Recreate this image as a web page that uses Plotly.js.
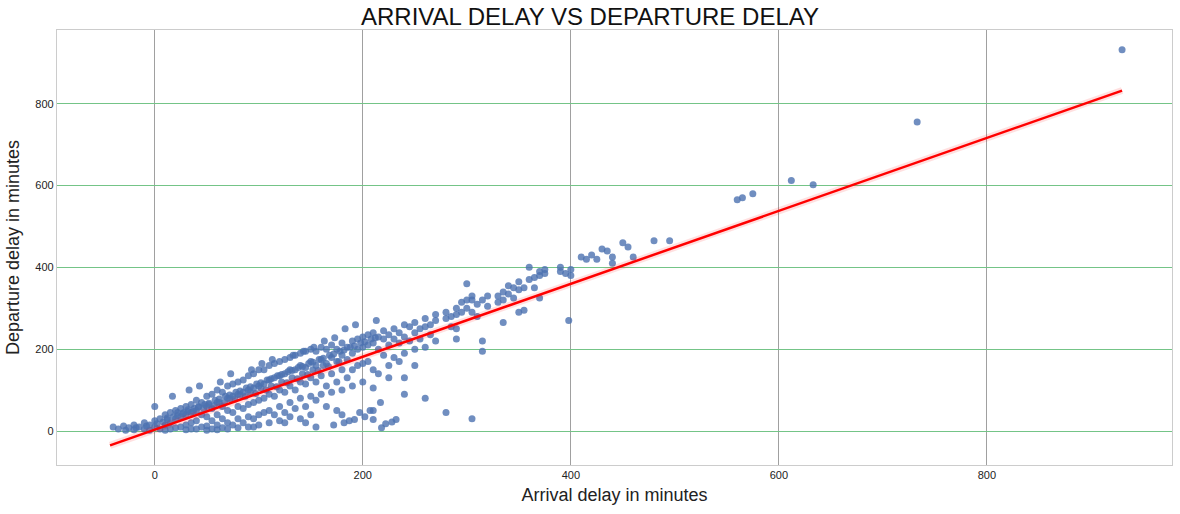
<!DOCTYPE html>
<html>
<head>
<meta charset="utf-8">
<script src="https://cdn.plot.ly/plotly-3.0.1.min.js"></script>
<style>body{margin:0;background:#fff}#chart{width:1180px;height:514px}</style>
</head>
<body>
<div id="chart"></div>
<script>
var arrDelay = [-40,-35,-30,-25,-20,-20,-15,-10,-10,-5,-5,0,0,0,
5,5,10,10,10,15,15,15,20,20,20,25,25,25,30,30,30,30,35,35,35,35,40,40,40,40,45,45,45,
50,50,50,50,50,55,55,55,55,60,60,60,60,60,65,65,65,65,70,70,70,70,70,75,75,75,75,
80,80,80,80,80,85,85,85,85,90,90,90,90,90,95,95,95,95,95,100,100,100,100,100,105,105,105,105,
110,110,110,110,110,115,115,115,115,120,120,120,120,120,125,125,125,125,125,130,130,130,130,130,
135,135,135,135,140,140,140,140,140,145,145,145,145,145,150,150,150,150,150,155,155,155,155,155,
160,160,160,160,165,165,165,165,170,170,170,170,175,175,175,175,180,180,180,180,180,185,185,185,
190,190,190,190,195,195,195,200,200,200,200,205,205,205,210,210,210,210,210,210,215,215,215,
220,220,220,225,225,225,225,230,230,230,235,235,235,240,240,240,240,240,245,245,250,250,250,250,
255,255,260,260,260,260,265,265,270,270,270,280,280,280,285,285,290,290,290,290,295,295,
300,300,300,305,305,305,305,310,310,315,315,315,320,320,330,330,335,335,335,340,340,345,345,
350,350,350,355,355,360,360,365,365,370,370,370,375,375,390,390,395,398,400,400,410,415,420,425,
430,435,440,440,450,455,460,480,495,560,565,575,612,633,733,930,
// extra points filling the dense part of the cloud
-28,-18,-8,2,8,12,18,22,28,32,38,42,48,52,58,62,68,72,78,82,88,92,98,102,108,112,118,122,128,132,
138,142,148,152,158,162,168,172,178,182,188,192,198,202,208,212,218,222,228,232,
12,22,32,42,52,62,72,82,92,102,112,122,132,142,152,162,172,182,192,202,
27,37,47,57,67,77,87,97,107,117,127,137,147,157,167,177,187,197,207,217,
17,33,43,63,73,93,103,113,133,143,153,163,173,183,193,213,223,243,253,263];
var depDelay = [10,5,12,8,15,3,10,20,5,15,2,25,10,60,
30,5,40,15,2,45,20,5,50,30,8,55,35,10,60,40,15,3,65,45,20,5,75,50,25,5,70,40,10,
85,60,35,12,2,90,55,25,5,100,70,40,15,3,95,60,30,8,110,80,50,20,5,115,85,45,15,
120,90,60,30,8,125,95,55,20,135,100,65,35,10,140,105,70,30,10,150,110,75,40,15,150,115,80,45,
160,125,90,50,20,165,130,85,40,170,135,100,60,25,175,140,95,45,20,180,150,110,70,35,
185,150,100,55,190,160,120,80,30,195,155,115,60,20,200,170,130,85,40,195,160,120,75,10,
205,175,135,90,200,165,110,60,210,180,140,95,200,170,120,50,215,185,150,100,40,205,175,130,
220,190,150,110,225,200,160,230,205,165,120,235,210,170,240,215,150,105,50,28,230,200,140,
245,225,185,235,210,160,130,250,225,180,240,215,170,260,230,190,130,90,255,220,265,240,200,160,
250,225,275,255,205,80,260,235,285,270,220,290,275,45,280,255,300,285,250,225,315,290,
320,300,360,330,320,290,30,310,280,320,195,220,330,305,330,315,340,320,265,355,335,350,325,
365,345,290,350,295,370,400,375,350,390,380,325,395,385,400,390,385,270,395,380,425,420,430,420,
445,440,410,425,460,450,425,465,465,565,570,580,612,602,755,932,
2,8,12,18,22,28,35,38,45,48,55,58,65,68,75,78,85,88,95,98,105,108,115,118,125,128,
135,138,145,148,155,158,165,168,175,178,185,188,195,198,205,208,215,218,225,228,
8,18,22,28,32,45,52,60,65,70,78,88,95,105,110,120,130,140,150,160,
15,20,28,35,42,48,55,62,70,78,85,92,100,108,118,128,138,148,158,170,
25,45,50,70,85,100,110,120,140,150,165,175,185,195,205,220,228,250,260,270];
// fitted regression line end points
var fitX = [-43, 930];
var fitY = [-35, 832];

var pts = {
  x: arrDelay, y: depDelay, type: 'scatter', mode: 'markers',
  marker: {color: '#4c72b0', size: 7, opacity: 0.8}, hoverinfo: 'skip'
};
var band = {
  x: fitX, y: fitY, type: 'scatter', mode: 'lines',
  line: {color: 'rgba(255,0,0,0.12)', width: 7}, hoverinfo: 'skip'
};
var fit = {
  x: fitX, y: fitY, type: 'scatter', mode: 'lines',
  line: {color: '#ff0000', width: 2.5}
};

var layout = {
  width: 1180, height: 514,
  margin: {l: 57, r: 8, t: 30, b: 49},
  showlegend: false,
  paper_bgcolor: '#fff', plot_bgcolor: '#fff',
  font: {family: 'Liberation Sans, Arial, sans-serif', color: '#222'},
  title: {text: 'ARRIVAL DELAY VS DEPARTURE DELAY', x: 0.5, y: 0.985, yanchor: 'top',
          font: {size: 24, color: '#111'}},
  xaxis: {
    range: [-94, 978], tickvals: [0, 200, 400, 600, 800],
    gridcolor: '#a0a0a0', gridwidth: 0.8, zeroline: false,
    showline: true, mirror: true, linecolor: '#ccc', linewidth: 1.3,
    tickfont: {size: 11}, ticks: '',
    title: {text: 'Arrival delay in minutes', font: {size: 18}, standoff: 8}
  },
  yaxis: {
    range: [-83, 980], tickvals: [0, 200, 400, 600, 800],
    gridcolor: '#74c487', gridwidth: 0.8, zeroline: false,
    showline: true, mirror: true, linecolor: '#ccc', linewidth: 1.3,
    tickfont: {size: 11}, ticks: '',
    title: {text: 'Departure delay in minutes', font: {size: 18}, standoff: 10}
  }
};

Plotly.newPlot('chart', [pts, band, fit], layout, {displayModeBar: false});
</script>
</body>
</html>
